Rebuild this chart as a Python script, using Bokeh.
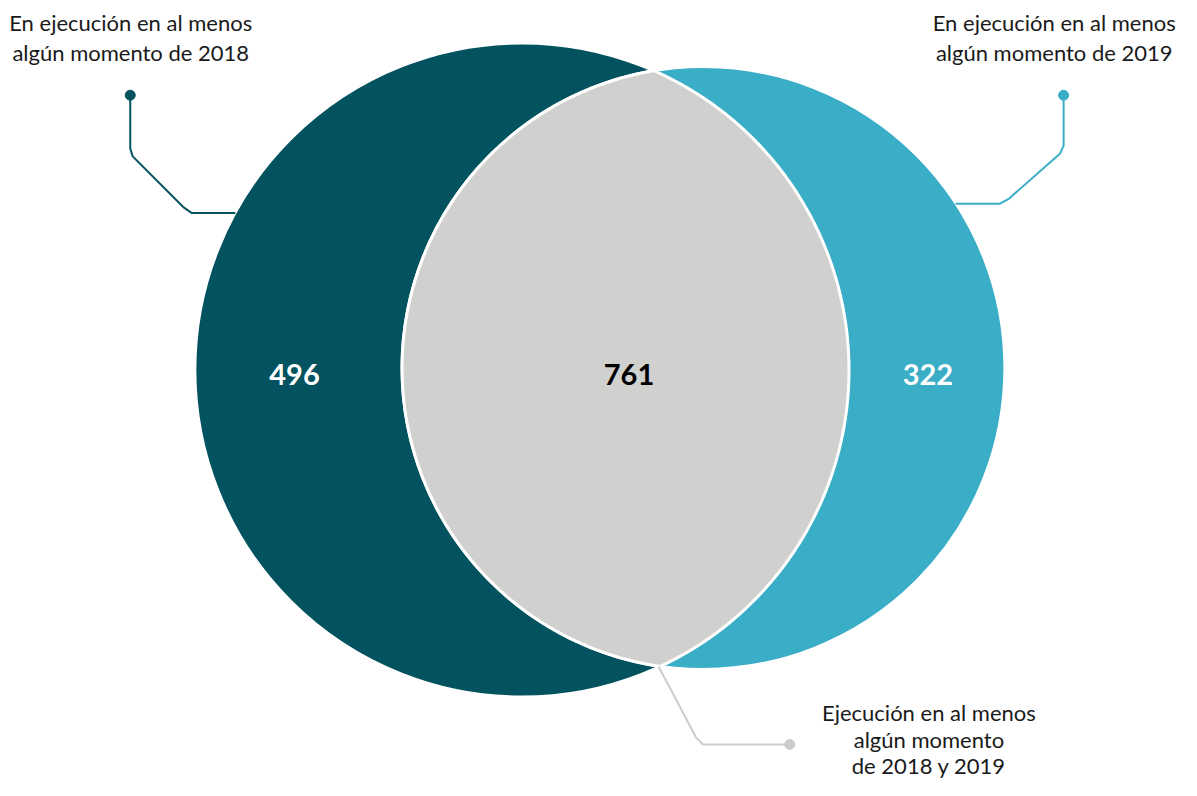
import numpy as np
from bokeh.plotting import figure
from bokeh.models import Range1d
from bokeh.core.properties import value
from bokeh.embed import file_html
from bokeh.resources import INLINE

# ---- data ----
set_names = ["2018", "2019"]
only_2018 = 496
both = 761
only_2019 = 322
label_2018 = ["En ejecución en al menos", "algún momento de 2018"]
label_2019 = ["En ejecución en al menos", "algún momento de 2019"]
label_both = ["Ejecución en al menos", "algún momento", "de 2018 y 2019"]

# ---- style / layout ----
DARK = "#02525F"
LIGHT = "#3AADC7"
GREY = "#D0D0CF"
FONT = "Lato"

W, H = 1181, 780
XSPAN = 1197.0
YSPAN = H * XSPAN / W  # uniform scale
p = figure(width=W, height=H, output_backend="svg", toolbar_location=None,
           x_range=Range1d(0, XSPAN), y_range=Range1d(YSPAN, 0),
           min_border=0, match_aspect=False)
p.axis.visible = False
p.grid.visible = False
p.outline_line_color = None
p.background_fill_color = "white"

# circle geometry (layout)
c1 = np.array([528.5, 374.5]); r1 = 331.5
c2 = np.array([712.5, 372.5]); r2 = 305.5

p.circle(x=[c1[0]], y=[c1[1]], radius=r1, fill_color=DARK, line_color="white", line_width=3)
p.circle(x=[c2[0]], y=[c2[1]], radius=r2, fill_color=LIGHT, line_color="white", line_width=3)

# lens (intersection) polygon
d = np.linalg.norm(c2 - c1)
a = (d**2 + r1**2 - r2**2) / (2 * d)
h = np.sqrt(r1**2 - a**2)
u = (c2 - c1) / d
n = np.array([-u[1], u[0]])
pm = c1 + a * u
P1 = pm + h * n
P2 = pm - h * n

def ang(c, P):
    return np.arctan2(P[1] - c[1], P[0] - c[0])

a1s, a1e = ang(c1, P1), ang(c1, P2)
t1 = np.linspace(a1s, a1e, 200)
if abs(a1e - a1s) > np.pi:
    t1 = np.linspace(a1s, a1e + (2*np.pi if a1e < a1s else -2*np.pi), 200)
arc1x = c1[0] + r1 * np.cos(t1); arc1y = c1[1] + r1 * np.sin(t1)
a2s_u = ang(c2, P2) % (2*np.pi); a2e_u = ang(c2, P1) % (2*np.pi)
t2 = np.linspace(a2s_u, a2e_u, 200)
arc2x = c2[0] + r2 * np.cos(t2); arc2y = c2[1] + r2 * np.sin(t2)
lx = np.concatenate([arc1x, arc2x]); ly = np.concatenate([arc1y, arc2y])
p.patch(lx, ly, fill_color=GREY, line_color="white", line_width=3)

# leader lines
p.line([131.5, 131.5, 134, 186, 194, 238], [96, 150, 158, 210, 215.5, 215.5],
       line_color=DARK, line_width=2, line_join="round")
p.scatter([131.5], [96], size=10, fill_color=DARK, line_color=DARK)
p.line([1077.5, 1077.5, 1074, 1022, 1013, 968], [96, 147, 155, 201, 206, 206],
       line_color=LIGHT, line_width=2, line_join="round")
p.scatter([1077.5], [96], size=10, fill_color=LIGHT, line_color=LIGHT)
p.line([667, 705, 712, 800], [675, 747, 754, 754],
       line_color="#CCCCCC", line_width=2, line_join="round")
p.scatter([800], [754], size=10, fill_color="#CCCCCC", line_color="#CCCCCC")

# region values
p.text(x=[298, 637, 940], y=[379, 379, 379],
       text=[str(only_2018), str(both), str(only_2019)],
       text_color=["white", "black", "white"], text_font=value(FONT),
       text_font_style="bold", text_font_size="29px",
       text_align="center", text_baseline="middle")

# set labels
TXT = "#1a1a1a"
p.text(x=[132] * len(label_2018), y=[22, 53][:len(label_2018)], text=label_2018,
       text_font=value(FONT), text_font_size="22px", text_color=TXT,
       text_align="center", text_baseline="middle")
p.text(x=[1068] * len(label_2019), y=[22, 53][:len(label_2019)], text=label_2019,
       text_font=value(FONT), text_font_size="22px", text_color=TXT,
       text_align="center", text_baseline="middle")
p.text(x=[941] * len(label_both), y=[722, 749, 775][:len(label_both)], text=label_both,
       text_font=value(FONT), text_font_size="22px", text_color=TXT,
       text_align="center", text_baseline="middle")

open("out.html", "w").write(file_html(p, INLINE))
